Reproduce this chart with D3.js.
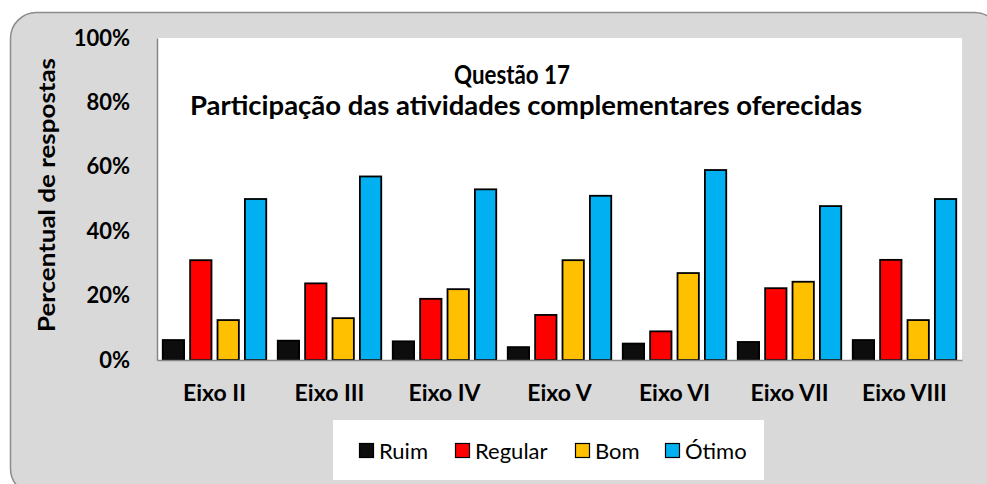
<!DOCTYPE html>
<html>
<head>
<meta charset="utf-8">
<script src="https://cdn.jsdelivr.net/npm/d3@7"></script>
<style>
  html, body { margin: 0; padding: 0; background: #ffffff; }
  svg { display: block; }
  text { font-family: Lato, "Open Sans", sans-serif; }
</style>
</head>
<body>
<svg id="chart" width="987" height="484"></svg>
<script>
// ---- data ----
const categories = ["Eixo II", "Eixo III", "Eixo IV", "Eixo V", "Eixo VI", "Eixo VII", "Eixo VIII"];
const seriesNames = ["Ruim", "Regular", "Bom", "Ótimo"];
const ruim    = [6.2, 6.0, 5.8, 4.0, 5.1, 5.6, 6.2];
const regular = [31.0, 23.8, 19.0, 14.0, 8.9, 22.3, 31.1];
const bom     = [12.4, 13.0, 22.0, 31.0, 27.0, 24.3, 12.4];
const otimo   = [50.0, 57.0, 53.0, 51.0, 59.0, 47.8, 50.0];
const yTicks  = [0, 20, 40, 60, 80, 100];
const titleLines = ["Questão 17", "Participação das atividades complementares oferecidas"];
const yTitle = "Percentual de respostas";

const seriesValues = [ruim, regular, bom, otimo];
const colors = ["#0d0d0d", "#ff0000", "#ffc000", "#00b0f0"];

// ---- layout ----
const svg = d3.select("#chart");
const plot = { left: 157, right: 962, top: 38, bottom: 360 };

// outer rounded panel
svg.append("rect")
  .attr("x", 10.5).attr("y", 12.5)
  .attr("width", 990).attr("height", 482)
  .attr("rx", 26).attr("ry", 26)
  .attr("fill", "#d9d9d9")
  .attr("stroke", "#8c8c8c").attr("stroke-width", 1.5);

// plot area
svg.append("rect")
  .attr("x", plot.left).attr("y", plot.top)
  .attr("width", plot.right - plot.left).attr("height", plot.bottom - plot.top)
  .attr("fill", "#ffffff");

const x0 = d3.scaleBand().domain(categories).range([plot.left, plot.right])
  .paddingInner(0.1).paddingOuter(0.05);
const x1 = d3.scaleBand().domain(seriesNames).range([0, x0.bandwidth()])
  .paddingInner(0.22);
const y = d3.scaleLinear().domain([0, 100]).range([plot.bottom, plot.top]);

// title
svg.append("text")
  .attr("x", 512).attr("y", 84)
  .attr("text-anchor", "middle")
  .attr("font-size", 26).attr("font-weight", "bold").attr("fill", "#000")
  .attr("textLength", 116).attr("lengthAdjust", "spacingAndGlyphs")
  .text(titleLines[0]);
svg.append("text")
  .attr("x", 526).attr("y", 115)
  .attr("text-anchor", "middle")
  .attr("font-size", 26).attr("font-weight", "bold").attr("fill", "#000")
  .attr("textLength", 672).attr("lengthAdjust", "spacingAndGlyphs")
  .text(titleLines[1]);

// bars
const groups = svg.append("g").selectAll("g")
  .data(categories)
  .join("g")
  .attr("transform", d => `translate(${x0(d)},0)`);

groups.selectAll("rect")
  .data((d, i) => seriesNames.map((s, j) => ({ s, j, v: seriesValues[j][i] })))
  .join("rect")
  .attr("x", d => x1(d.s))
  .attr("y", d => y(d.v))
  .attr("width", x1.bandwidth())
  .attr("height", d => y(0) - y(d.v))
  .attr("fill", d => colors[d.j])
  .attr("stroke", "#000")
  .attr("stroke-width", 1.8);

// y axis
const yAxis = d3.axisLeft(y).tickValues(yTicks).tickSize(0).tickPadding(27)
  .tickFormat(d => d + "%");
const yg = svg.append("g").attr("transform", `translate(${plot.left},0)`).call(yAxis);
yg.select(".domain").attr("stroke", "#868686").attr("stroke-width", 1.5);
yg.selectAll("text")
  .attr("font-family", "Lato, sans-serif")
  .attr("font-size", 22).attr("font-weight", "bold").attr("fill", "#000");

// x axis
const xAxis = d3.axisBottom(x0).tickSize(0).tickPadding(25);
const xg = svg.append("g").attr("transform", `translate(0,${plot.bottom})`).call(xAxis);
xg.select(".domain").attr("stroke", "#868686").attr("stroke-width", 1.5);
xg.selectAll("text")
  .attr("font-family", "Lato, sans-serif")
  .attr("font-size", 23).attr("font-weight", "bold").attr("fill", "#000");

// y title
svg.append("text")
  .attr("transform", "translate(55,195) rotate(-90)")
  .attr("text-anchor", "middle")
  .attr("font-size", 23).attr("font-weight", "bold").attr("fill", "#000")
  .attr("textLength", 274).attr("lengthAdjust", "spacingAndGlyphs")
  .text(yTitle);

// legend
svg.append("rect")
  .attr("x", 333).attr("y", 420).attr("width", 431).attr("height", 60)
  .attr("fill", "#ffffff");
const legendX = [359, 455, 575, 665];
const leg = svg.append("g").selectAll("g")
  .data(seriesNames)
  .join("g")
  .attr("transform", (d, i) => `translate(${legendX[i]},443)`);
leg.append("rect")
  .attr("x", 0.5).attr("y", 0.5).attr("width", 14).attr("height", 14)
  .attr("fill", (d, i) => colors[i])
  .attr("stroke", "#000").attr("stroke-width", 1.2);
leg.append("text")
  .attr("x", 20).attr("y", 16)
  .attr("font-size", 22).attr("fill", "#000")
  .text(d => d);
</script>
</body>
</html>
